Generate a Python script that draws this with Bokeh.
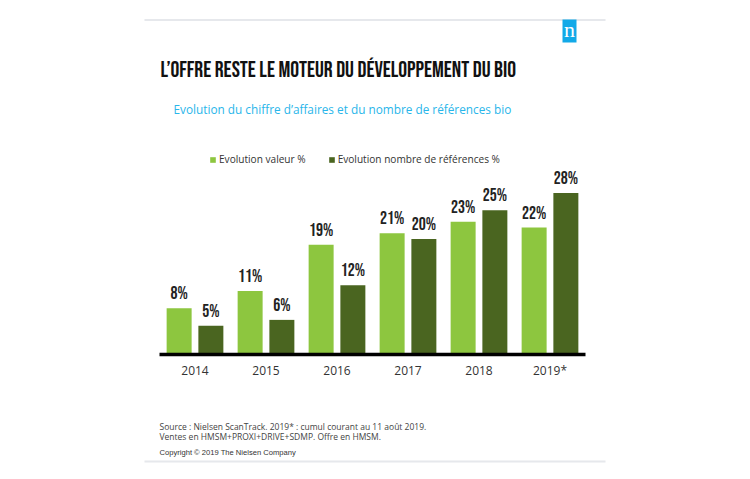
from bokeh.plotting import figure
from bokeh.models import (ColumnDataSource, FactorRange, Range1d, LabelSet, Label,
                          BoxAnnotation, Legend, LegendItem)
from bokeh.transform import dodge
from bokeh.core.properties import value
from bokeh.embed import file_html
from bokeh.resources import INLINE

# ---- data ----
years = ["2014", "2015", "2016", "2017", "2018", "2019*"]
valeur = [8, 11, 19, 21, 23, 22]
references = [5, 6, 12, 20, 25, 28]
series_names = ["Evolution valeur %", "Evolution nombre de références %"]

title_text = "L\u2019OFFRE RESTE LE MOTEUR DU DÉVELOPPEMENT DU BIO"
subtitle_text = "Evolution du chiffre d\u2019affaires et du nombre de références bio"
source_1 = "Source : Nielsen ScanTrack.  2019* : cumul courant au 11 août 2019."
source_2 = "Ventes en HMSM+PROXI+DRIVE+SDMP.  Offre en HMSM."
copyright_text = "Copyright © 2019 The Nielsen Company"

LIGHT = "#8DC63F"
DARK = "#4A6520"
BLUE = "#12A9E8"
COND = "Bebas Neue"

W, H = 744, 472

src = ColumnDataSource(dict(
    year=years, valeur=valeur, references=references, zero=[0] * len(years),
    lv=[f"{v}%" for v in valeur], lr=[f"{v}%" for v in references],
))

p = figure(width=W, height=H,
           x_range=FactorRange(*years, range_padding=0.7465, range_padding_units="percent"),
           y_range=Range1d(-20.45, 61.35), output_backend="svg", toolbar_location=None,
           title=None, x_axis_location=None, y_axis_location=None,
           min_border=0)
p.outline_line_color = None
p.background_fill_color = "white"
p.border_fill_color = "white"
p.grid.visible = False

off = 0.2235
bw = 0.352
r1 = p.vbar(x=dodge("year", -off, range=p.x_range), top="valeur", width=bw,
            source=src, fill_color=LIGHT, line_color=None)
r2 = p.vbar(x=dodge("year", off, range=p.x_range), top="references", width=bw,
            source=src, fill_color=DARK, line_color=None)

# axis line under the bars, across the whole category span
p.add_layout(BoxAnnotation(left=0, right=len(years), top=119.8, bottom=116.2,
                           top_units="screen", bottom_units="screen",
                           fill_color="black", fill_alpha=1, line_color=None))

for col, lab, o in (("valeur", "lv", -off), ("references", "lr", off)):
    p.add_layout(LabelSet(x=dodge("year", o, range=p.x_range), y=col, text=lab,
                          source=src, y_offset=9, text_align="center",
                          text_baseline="alphabetic", text_font=value(COND),
                          text_font_size="17.5px", text_color="#222222"))

p.add_layout(LabelSet(x="year", y="zero", text="year", source=src, y_offset=-16,
                      text_align="center", text_baseline="middle",
                      text_font=value("Open Sans"), text_font_size="12px",
                      text_color="#333333"))

legend = Legend(items=[LegendItem(label=series_names[0], renderers=[r1]),
                       LegendItem(label=series_names[1], renderers=[r2])],
                location=(209, 306), orientation="horizontal",
                glyph_width=7, glyph_height=7, label_standoff=3, spacing=22,
                padding=0, margin=0, label_height=12,
                label_text_font="Open Sans", label_text_font_size="10.1px",
                label_text_color="#333333", border_line_color=None,
                background_fill_alpha=0)
p.add_layout(legend)

def box(l, r, t, b, color):
    p.add_layout(BoxAnnotation(left=l, right=r, top=t, bottom=b,
                               left_units="screen", right_units="screen",
                               top_units="screen", bottom_units="screen",
                               fill_color=color, fill_alpha=1, line_color=None))

box(144, 605, 453.5, 451.5, "#E6E8EC")
box(144, 605, 12, 10, "#E6E8EC")
box(562, 576, 453, 430, BLUE)

def lab(x, y, text, font, size, color, style="normal", align="left"):
    p.add_layout(Label(x=x, y=y, x_units="screen", y_units="screen", text=text,
                       text_align=align, text_baseline="alphabetic", text_font=font,
                       text_font_size=size, text_color=color,
                       text_font_style=style))

lab(569, 443, "n", "Liberation Serif", "22px", "white", align="center")
lab(160, 402.5, title_text, COND, "22px", "#111111")
lab(173, 364, subtitle_text, "Open Sans", "11.8px", "#29B6EA")
lab(159, 46, source_1, "Open Sans", "8.5px", "#444444")
lab(159, 36.3, source_2, "Open Sans", "8.5px", "#444444")
lab(159, 19.7, copyright_text, "Liberation Sans", "7.6px", "#333333")

open("out.html", "w").write(file_html(p, INLINE))
